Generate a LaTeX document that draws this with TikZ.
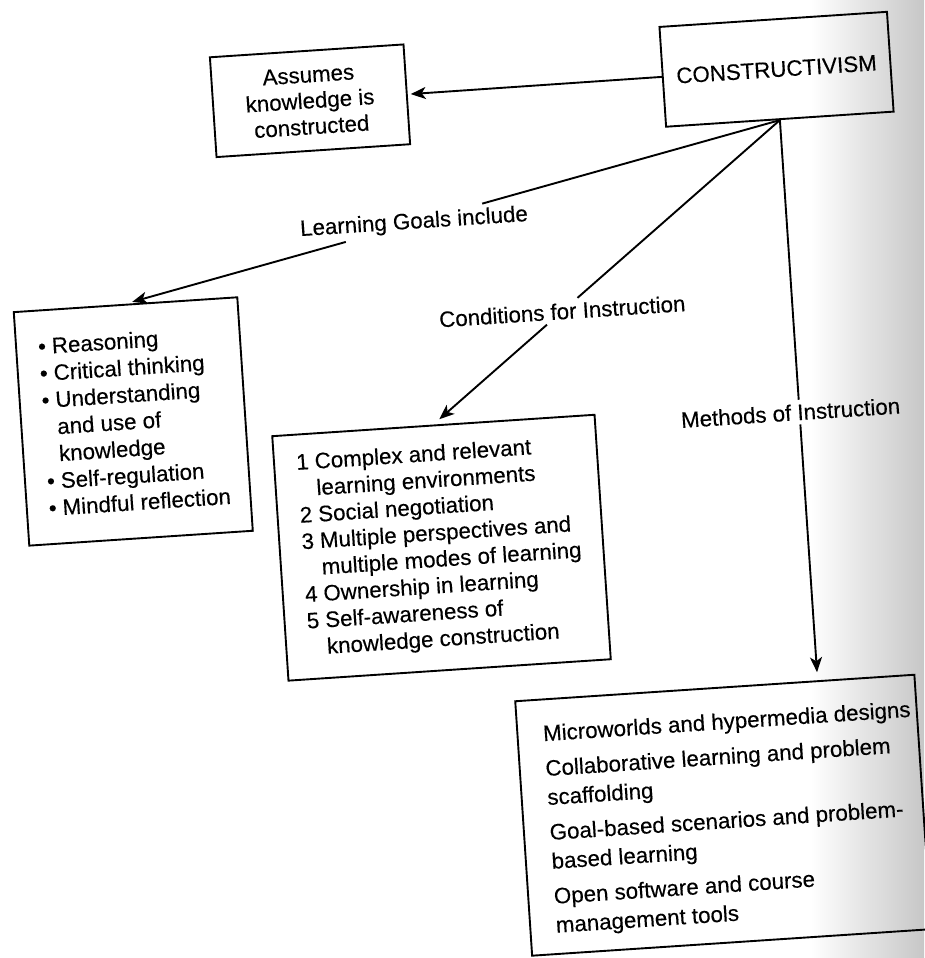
\documentclass[tikz,border=0pt]{standalone}
\usepackage{fontspec}
\setmainfont{Liberation Sans}[FakeBold=0.3]
\usetikzlibrary{arrows.meta,calc}
\begin{document}
\begin{tikzpicture}[x=1pt,y=-1pt,
  box/.style={draw, line width=1.9pt, inner sep=0pt},
  fnt/.style={font=\fontsize{22.3}{27}\selectfont},
  itemtext/.style={inner sep=0pt, anchor=base west},
  lbl/.style={inner sep=4pt, fnt},
  conn/.style={line width=1.9pt},
  arr/.style={line width=1.9pt, -{Stealth[length=15pt,width=12pt,inset=4pt]}},
]
\useasboundingbox (0,0) rectangle (924,958);
\shade[left color=white, right color=black!22] (810,0) rectangle (924,958);
\begin{scope}[rotate around={3.8:(462,479)}, transform shape]
  % boxes
  \node[box, fnt, minimum width=228pt, minimum height=100pt] (con) at (803,91) {CONSTRUCTIVISM};
  \node[box, font=\fontsize{22.3}{26}\selectfont, align=center, minimum width=194pt, minimum height=100pt] (ass) at (335.4,91.5) {Assumes\\knowledge is\\constructed};
  \node[box, minimum width=224pt, minimum height=234pt] (goal) at (137.8,399.8) {};
  \node[box, minimum width=323pt, minimum height=245pt] (cond) at (437,546.2) {};
  \node[box, minimum width=400pt, minimum height=255pt] (meth) at (700.4,831.8) {};
  % box texts
  \node[itemtext, font=\fontsize{22.3}{27}\selectfont] (goaltxt) at (47.6,326.5) {%
    \begin{tabular}[t]{@{}l@{\hspace{6pt}}l@{}}
    •&Reasoning\\
    •&Critical thinking\\
    •&Understanding\\
     &and use of\\
     &knowledge\\
    •&Self-regulation\\
    •&Mindful reflection
    \end{tabular}};
  \node[itemtext, font=\fontsize{22.3}{26.5}\selectfont] (condtxt) at (297.6,459) {%
    \begin{tabular}[t]{@{}l@{\hspace{6pt}}l@{}}
    1&Complex and relevant\\
     &learning environments\\
    2&Social negotiation\\
    3&Multiple perspectives and\\
     &multiple modes of learning\\
    4&Ownership in learning\\
    5&Self-awareness of\\
     &knowledge construction
    \end{tabular}};
  \node[itemtext, font=\fontsize{22.3}{29}\selectfont] (methtxt) at (525.9,746) {%
    \begin{tabular}[t]{@{}l@{}}
    Microworlds and hypermedia designs\\[6pt]
    Collaborative learning and problem\\
    scaffolding\\[6pt]
    Goal-based scenarios and problem-\\
    based learning\\[6pt]
    Open software and course\\
    management tools
    \end{tabular}};
  % connectors
  \draw[arr, shorten >=3pt] (con.west) -- (ass.east);
  \path (con.south) -- (goal.north) node[lbl, pos=0.559] (lgl) {Learning Goals include};
  \draw[conn] (con.south) -- (lgl);
  \draw[arr, shorten >=7pt] (lgl) -- (goal.north);
  \path (con.south) -- (cond.north) node[lbl, pos=0.628] (lcl) {Conditions for Instruction};
  \draw[conn] (con.south) -- (lcl);
  \draw[arr, shorten >=8pt] (lcl) -- (cond.north);
  \coordinate (mtop) at ($(meth.north west)!0.7565!(meth.north east)$);
  \path (con.south) -- (mtop) node[lbl, pos=0.5214, xshift=-9pt] (mlbl) {Methods of Instruction};
  \draw[conn] (con.south) -- ($(con.south)!(mlbl.north)!(mtop)$);
  \draw[arr, shorten >=8pt] ($(con.south)!(mlbl.south)!(mtop)$) -- (mtop);
\end{scope}
\end{tikzpicture}
\end{document}
